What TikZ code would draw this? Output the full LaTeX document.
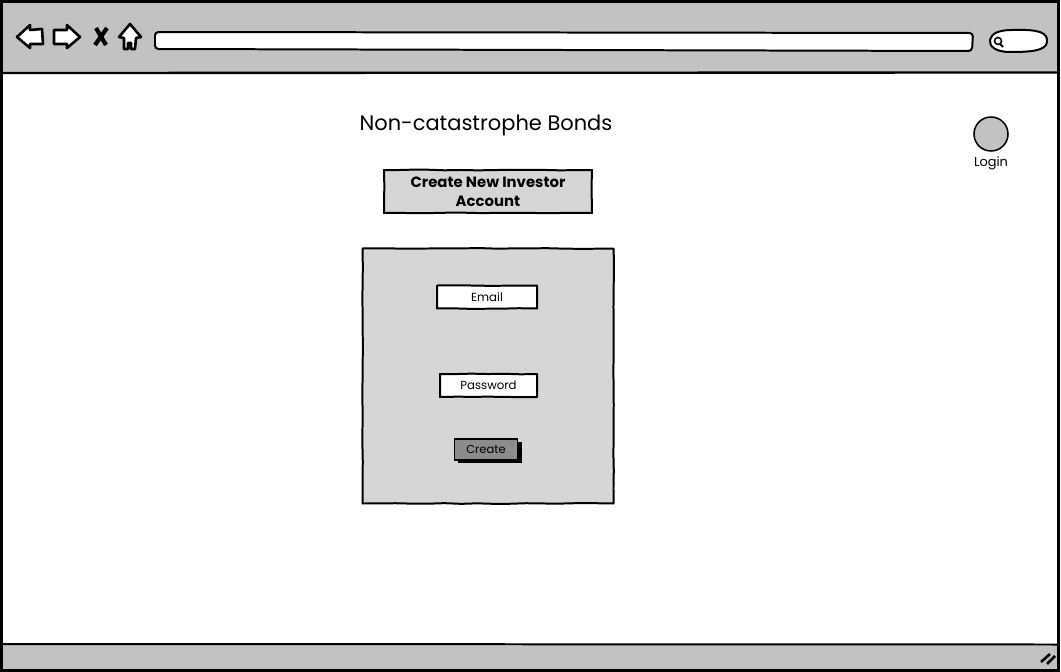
\documentclass[tikz,border=0pt]{standalone}
\usepackage{fontspec}
\usetikzlibrary{positioning,decorations.pathmorphing}
\setmainfont{Poppins}
\definecolor{chrome}{gray}{0.76}
\definecolor{panelgray}{gray}{0.84}
\definecolor{btngray}{gray}{0.55}
\pgfmathsetseed{7}
\tikzset{
  sketch/.style={draw=black,line width=1.7pt,line join=round,decorate,
    decoration={random steps,segment length=14pt,amplitude=0.3pt}},
  field/.style={sketch,fill=white,inner sep=0pt,font=\fontsize{10}{12}\selectfont},
  icon/.style={draw=black,fill=white,line width=2.2pt,line join=round},
}
\begin{document}
\begin{tikzpicture}[x=0.03cm,y=-0.03cm]
  \useasboundingbox (0,0) rectangle (1061,672);
  % window and both bars
  \fill[white] (0,0) rectangle (1061,672);
  \fill[chrome] (1,1) rectangle (1059,73);
  \fill[chrome] (1,644) rectangle (1059,670);
  \draw[line width=2pt] (1.5,1.5) rectangle (1058.5,670.5);
  \draw[line width=2pt] (1,73) -- (1059,72.5);
  \draw[line width=1.7pt] (1,644) -- (1059,644.5);
  % back and forward arrows
  \draw[icon] (17,37) -- (30,25) -- (30,30) -- (42,29) -- (43,44) -- (30,44) -- (30,48) -- cycle;
  \draw[icon] (80,37) -- (67,25) -- (67,30) -- (54,30) -- (54,44) -- (67,44) -- (67,48) -- cycle;
  % stop
  \draw[line width=3.6pt] (96,28) -- (106,45);
  \draw[line width=3.6pt] (107,28) -- (95,45);
  % home
  \draw[icon] (130,24) -- (141,37) -- (136,38) -- (135,49) -- (131,49) -- (131,43) -- (128,43) -- (128,49)
    -- (124,49) -- (124,38) -- (119,37) -- cycle;
  % address bar and search
  \draw[line width=1.7pt,fill=white,rounded corners=3pt] (155,32) -- (973,33) -- (972,51) -- (155,49) -- cycle;
  \draw[line width=1.7pt,fill=white] (1012,30) .. controls (1040,29) and (1048,33) .. (1047,42)
    .. controls (1046,51) and (1030,52) .. (1010,52)
    .. controls (995,52) and (989,46) .. (990,40)
    .. controls (991,33) and (1000,30) .. (1012,30);
  \draw[line width=1.3pt] (998,41) circle (3.5);
  \draw[line width=1.8pt] (1000,44) -- (1003,47);
  % resize grip
  \draw[line width=2.2pt] (1041,662) -- (1050,654);
  \draw[line width=2.2pt] (1047,664) -- (1055,656);
  % page content
  \node (title) at (486,125) {\fontsize{17.9}{21}\selectfont Non-catastrophe Bonds};
  \node[sketch,fill=panelgray,minimum width=208*0.03cm,minimum height=43*0.03cm,inner sep=0pt,
    align=center,font=\fontsize{12.7}{16.2}\selectfont\bfseries] (account) at (488,191.5)
    {Create New Investor\\Account};
  \node[sketch,fill=panelgray,minimum width=251*0.03cm,minimum height=255*0.03cm] (panel) at (488,376) {};
  \node[field,minimum width=100*0.03cm,minimum height=23*0.03cm] (email) at (487,297) {Email};
  \node[field,minimum width=97*0.03cm,minimum height=23*0.03cm] (password) at (488.5,385.5) {Password};
  \fill[black] (458,442) rectangle (522,463);
  \node[draw=black,fill=btngray,line width=1.2pt,inner sep=0pt,minimum width=63*0.03cm,minimum height=21*0.03cm,
    font=\fontsize{9.8}{11}\selectfont] (create) at (486,449.5) {Create};
  \node[draw=black,fill=chrome,circle,minimum size=34*0.03cm,inner sep=0pt,line width=1.3pt] (avatar) at (991,134) {};
  \node[below=3pt of avatar,inner sep=1pt,font=\fontsize{11}{13}\selectfont] (login) {Login};
\end{tikzpicture}
\end{document}
